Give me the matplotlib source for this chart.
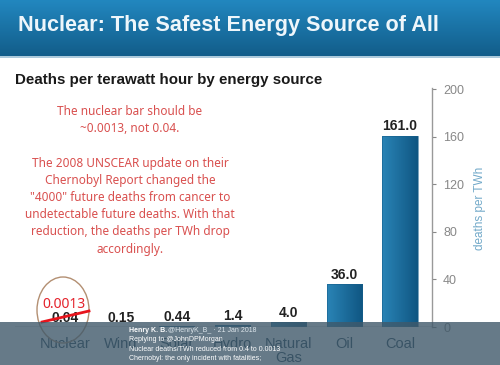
import numpy as np
import matplotlib.pyplot as plt
from matplotlib.patches import Rectangle, Ellipse
from matplotlib.lines import Line2D
from matplotlib.colors import LinearSegmentedColormap

# Данные
sources = ['Nuclear', 'Wind', 'Solar', 'Hydro', 'Natural\nGas', 'Oil', 'Coal']
deaths = [0.04, 0.15, 0.44, 1.4, 4.0, 36.0, 161.0]
value_labels = ['0.04', '0.15', '0.44', '1.4', '4.0', '36.0', '161.0']
y_ticks = [0, 40, 80, 120, 160, 200]

note_text = ("The nuclear bar should be\n~0.0013, not 0.04.\n\n"
             "The 2008 UNSCEAR update on their\nChernobyl Report changed the\n"
             "\"4000\" future deaths from cancer to\nundetectable future deaths. With that\n"
             "reduction, the deaths per TWh drop\naccordingly.")
tweet_lines = ["Replying to @JohnDPMorgan",
               "Nuclear deaths/TWh reduced from 0.4 to 0.0013",
               "Chernobyl: the only incident with fatalities;"]

W, H = 500, 365
red = '#d9504f'

fig = plt.figure(figsize=(W / 100, H / 100), dpi=100)
fig.patch.set_facecolor('white')

def fx(px):
    return px / W

def fy(py):
    return 1 - py / H

# Шапка с градиентом
ax_head = fig.add_axes([0, fy(56), 1, 56 / H])
grad = np.linspace(0, 1, 100).reshape(-1, 1)
cmap = LinearSegmentedColormap.from_list('hdr', ['#2287bf', '#125d8a'])
ax_head.imshow(grad, aspect='auto', cmap=cmap, extent=[0, 1, 0, 1])
ax_head.axis('off')
fig.add_artist(Line2D([0, 1], [fy(57), fy(57)], color='#9cc0d6', lw=1.2))
fig.text(fx(18), fy(26), 'Nuclear: The Safest Energy Source of All', color='#eef6fb',
         fontsize=15.6, fontweight='bold', family='Liberation Sans', va='center')

# Подзаголовок
fig.text(fx(15), fy(80), 'Deaths per terawatt hour by energy source', color='#1a1a1a',
         fontsize=10.9, fontweight='bold', family='Liberation Sans', va='center')

# Основной график
ax = fig.add_axes([fx(15), fy(327), fx(417), (327 - 88) / H])
x = np.arange(len(sources))
bars = ax.bar(x, deaths, width=0.63, color='none', edgecolor='#17608c', lw=0.4, zorder=2)
bar_cmap = LinearSegmentedColormap.from_list('bar', ['#2a84b6', '#0f5682'])
hgrad = np.linspace(0, 1, 64).reshape(1, -1)
for b in bars:
    x0, y0 = b.get_x(), b.get_y()
    im = ax.imshow(hgrad, aspect='auto', cmap=bar_cmap, zorder=1.5,
                   extent=[x0, x0 + b.get_width(), y0, y0 + b.get_height()])
    im.set_clip_path(b)
ax.bar_label(bars, labels=value_labels, padding=1.5, fontsize=10, fontweight='bold',
             color='#222222', family='Liberation Sans')
ax.set_xlim(-0.9, 6.573)
ax.set_ylim(0, 201)
ax.set_aspect('auto')
ax.set_xticks(x)
ax.set_xticklabels(sources, fontsize=10.5, color='#1c3c52', family='Liberation Sans', va='top',
                   linespacing=1.05)
ax.tick_params(axis='x', length=0, pad=7)
ax.yaxis.tick_right()
ax.set_yticks(y_ticks)
ax.tick_params(axis='y', colors='#888888', labelsize=9, length=3, pad=5)
for lbl in ax.get_yticklabels():
    lbl.set_family('Liberation Sans')
for s in ['top', 'left', 'bottom']:
    ax.spines[s].set_visible(False)
ax.spines['right'].set_color('#999999')
ax.spines['right'].set_linewidth(1)
ax.axhline(0, color='#666666', lw=1, zorder=3)
fig.text(fx(480), fy(208), 'deaths per TWh', rotation=90, color='#72a9c9',
         fontsize=8.5, family='Liberation Sans', ha='center', va='center')

# Красная заметка
fig.text(fx(130), fy(105), note_text, color=red, fontsize=8.5, family='Noto Sans',
         ha='center', va='top', linespacing=1.42)

# Обводка и зачёркивание
fig.add_artist(Ellipse((fx(63), fy(310)), fx(52), 66 / H, transform=fig.transFigure,
                       fill=False, edgecolor='#b38f72', lw=1))
fig.text(fx(64), fy(305), '0.0013', color='#e4222b', fontsize=10, family='Noto Sans',
         ha='center', va='center')
fig.add_artist(Line2D([fx(42), fx(89)], [fy(322), fy(311)], color='#e8141c', lw=2))

# Плашка твита
fig.add_artist(Rectangle((0, 0), 1, (H - 322) / H, transform=fig.transFigure,
                         facecolor='#40596a', alpha=0.8, edgecolor='none', zorder=5))
fig.text(fx(129), fy(330), 'Henry K. B.', color='white', fontsize=5,
         fontweight='bold', family='Liberation Sans', va='center', zorder=6)
fig.text(fx(168), fy(330), '@HenryK_B_ · 21 Jan 2018', color='#dde6ec', fontsize=5,
         family='Liberation Sans', va='center', zorder=6)
for i, line in enumerate(tweet_lines):
    fig.text(fx(129), fy(339.5 + i * 9.6), line, color='white', fontsize=5,
             family='Liberation Sans', va='center', zorder=6)

fig.savefig('out.png', dpi=100)
